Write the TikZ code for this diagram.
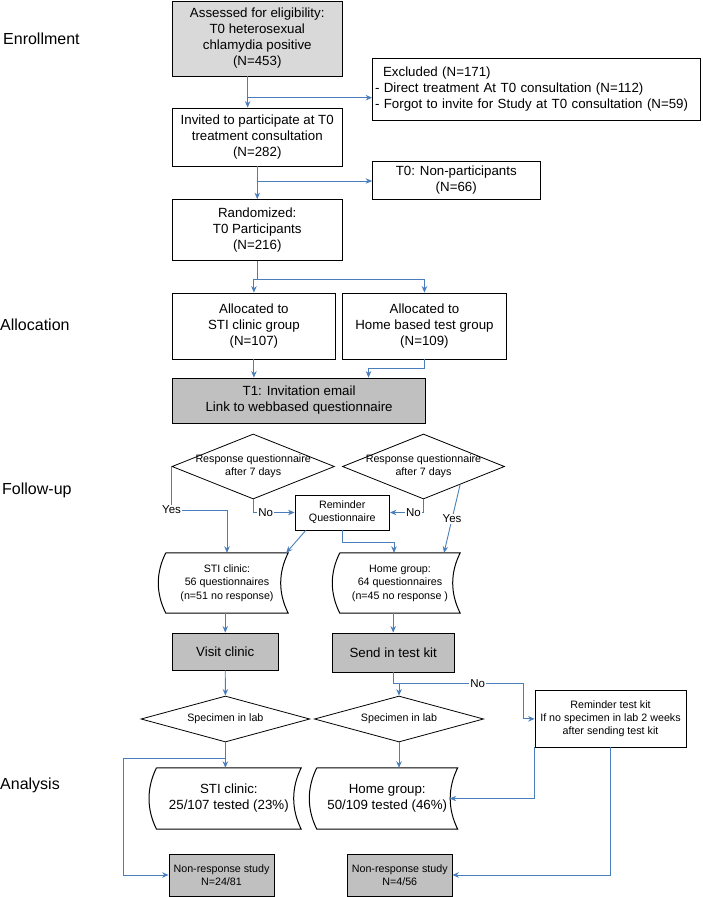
\documentclass[tikz,border=0pt]{standalone}
\usepackage{fontspec}
\setmainfont{Liberation Sans}
\usetikzlibrary{shapes.geometric,calc,arrows.meta}
\definecolor{linkblue}{HTML}{4A7EBB}
\definecolor{lightgrey}{HTML}{D9D9D9}
\definecolor{midgrey}{HTML}{C0C0C0}

\begin{document}
\begin{tikzpicture}[x=1pt,y=-1pt]
        % Define styles
        \tikzset{
            box/.style={rectangle, draw, line width=0.8pt, align=center, inner sep=0pt, font=\fontsize{13.3}{16}\selectfont},
            greybox/.style={box, fill=midgrey},
            smallbox/.style={box, font=\fontsize{10.7}{13}\selectfont},
            decision/.style={diamond, draw, line width=0.8pt, inner sep=0pt},
            tapebox/.style={rectangle, align=center, inner sep=0pt},
            smalltext/.style={align=center, inner sep=0pt, font=\fontsize{10.7}{13}\selectfont},
            phase/.style={anchor=west, inner sep=0pt, font=\fontsize{16}{19}\selectfont},
            answer/.style={fill=white, inner sep=1pt, font=\fontsize{11.5}{13}\selectfont},
            link/.style={draw=linkblue, line width=0.9pt},
            arrow/.style={link, ->, >={Stealth[length=6.5pt,width=5.5pt]}}
        }

        \useasboundingbox (0,0) rectangle (702,897);

        % Phases
        \node[phase] (enrollment_label) at (3,39) {Enrollment};
        \node[phase] (allocation_label) at (0,325) {Allocation};
        \node[phase] (followup_label) at (2,490) {Follow-up};
        \node[phase] (analysis_label) at (0,785) {Analysis};

        % Enrollment
        \node[box, fill=lightgrey, minimum width=170.5pt, minimum height=75pt] (assessed_node) at (257.25,38.5) {Assessed for eligibility:\\T0 heterosexual\\chlamydia positive\\(N=453)};
        \node[box, align=left, text width=323pt, inner xsep=2.5pt, minimum height=62pt] (excluded_node) at (536.5,89) {\hspace*{8.1pt}Excluded (N=171)\\- Direct treatment At T0 consultation (N=112)\\- Forgot to invite for Study at T0 consultation (N=59)};
        \node[box, minimum width=170.5pt, minimum height=58pt] (invited_node) at (257.25,137) {Invited to participate at T0\\treatment consultation\\(N=282)};
        \node[box, minimum width=167.5pt, minimum height=38.5pt] (nonpart_node) at (456.25,180.5) {T0: Non-participants\\(N=66)};
        \node[box, minimum width=170.5pt, minimum height=61pt] (randomized_node) at (257.25,230) {Randomized:\\T0 Participants\\(N=216)};

        % Allocation
        \node[box, minimum width=163.8pt, minimum height=66pt] (alloc_sti_node) at (253.9,326) {Allocated to\\STI clinic group\\(N=107)};
        \node[box, minimum width=163.9pt, minimum height=66pt] (alloc_home_node) at (424.45,326) {Allocated to\\Home based test group\\(N=109)};
        \node[greybox, minimum width=253.2pt, minimum height=45pt] (invitation_node) at (299.1,400.5) {T1: Invitation email\\Link to webbased questionnaire};

        % Follow-up
        \node[decision, minimum width=162.4pt, minimum height=65pt] (response_node_1) at (253.2,466.5) {};
        \node[smalltext] (response_text_1) at (response_node_1) {Response questionnaire\\after 7 days};
        \node[decision, minimum width=162pt, minimum height=65pt] (response_node_2) at (423.5,466.5) {};
        \node[smalltext] (response_text_2) at (response_node_2) {Response questionnaire\\after 7 days};
        \node[smallbox, minimum width=94.5pt, minimum height=35pt] (reminder_q_node) at (342.25,512.5) {Reminder\\Questionnaire};
        \node[tapebox, font=\fontsize{10.7}{13.5}\selectfont, minimum width=122pt, minimum height=60pt] (quest_sti_node) at (227,583) {STI clinic:\\56 questionnaires\\(n=51 no response)};
        \node[tapebox, font=\fontsize{10.7}{13.5}\selectfont, minimum width=120pt, minimum height=60pt] (quest_home_node) at (400,583) {Home group:\\64 questionnaires\\(n=45 no response )};

        % Analysis
        \node[greybox, minimum width=106.5pt, minimum height=37pt] (visit_node) at (225.25,651.5) {Visit clinic};
        \node[greybox, minimum width=122.4pt, minimum height=39pt] (sendkit_node) at (393.2,652.5) {Send in test kit};
        \node[decision, minimum width=168.8pt, minimum height=46pt] (specimen_node_1) at (225.4,719) {};
        \node[smalltext] (specimen_text_1) at (specimen_node_1) {Specimen in lab};
        \node[decision, minimum width=169.2pt, minimum height=46pt] (specimen_node_2) at (399,719) {};
        \node[smalltext] (specimen_text_2) at (specimen_node_2) {Specimen in lab};
        \node[smallbox, minimum width=151pt, minimum height=56.3pt] (reminder_kit_node) at (610.5,718.85) {Reminder test kit\\If no specimen in lab 2 weeks\\after sending test kit};
        \node[tapebox, font=\fontsize{13.3}{16}\selectfont, minimum width=144.3pt, minimum height=61pt] (tested_sti_node) at (228.85,798.5) {STI clinic:\\25/107 tested (23\%)};
        \node[tapebox, font=\fontsize{13.3}{16}\selectfont, minimum width=140.5pt, minimum height=61pt] (tested_home_node) at (387.25,798.5) {Home group:\\50/109 tested (46\%)};
        \node[smallbox, fill=midgrey, minimum width=105pt, minimum height=42pt] (nonresp_node_1) at (221.5,875) {Non-response study\\N=24/81};
        \node[smallbox, fill=midgrey, minimum width=104.5pt, minimum height=42pt] (nonresp_node_2) at (399.75,875) {Non-response study\\N=4/56};

        % Tape outlines
        \foreach \tape in {quest_sti_node, quest_home_node, tested_sti_node, tested_home_node}
            \draw[line width=1pt] (\tape.north west) -- (\tape.north east)
                .. controls +(-10,20) and +(-10,-20) .. (\tape.south east) -- (\tape.south west)
                .. controls +(-10,-20) and +(-10,20) .. (\tape.north west);

        % Arrows
        \coordinate (split_1) at (247.6,97.7);
        \draw[arrow] ([xshift=-9.6pt]assessed_node.south) -- ([xshift=-9.6pt]invited_node.north);
        \draw[arrow] (split_1) -- (split_1 -| excluded_node.west);
        \coordinate (split_2) at (257.25,181);
        \draw[arrow] (invited_node) -- (randomized_node);
        \draw[arrow] (split_2) -- (split_2 -| nonpart_node.west);

        \draw[link] (randomized_node.south) -- ++(0,18.5) coordinate (split_3);
        \draw[arrow] (split_3) -| (alloc_sti_node.north);
        \draw[arrow] (split_3) -| (alloc_home_node.north);
        \draw[arrow] (alloc_sti_node.south) -- (alloc_sti_node.south |- invitation_node.north);
        \draw[arrow] (alloc_home_node.south) -- ++(0,9) -| ([xshift=69.4pt]invitation_node.north);

        \draw[arrow] (response_node_1.west) -- ++(0,43.5) node[answer] (yes_label_1) {Yes} -| (quest_sti_node.north);
        \draw[arrow] (response_node_1.south) |- node[answer, pos=0.65] (no_label_1) {No} (reminder_q_node.west);
        \draw[arrow] (response_node_2.south) |- node[answer, pos=0.65] (no_label_2) {No} (reminder_q_node.east);
        \draw[arrow] ($(response_node_2.east)!0.55!(response_node_2.south)$) -- node[answer] (yes_label_2) {Yes} ([xshift=44pt]quest_home_node.north);
        \draw[arrow] ([xshift=-36.5pt]reminder_q_node.south) -- ([xshift=-2pt]quest_sti_node.north east);
        \draw[arrow] (reminder_q_node.south) -- ++(0,12) -| ([xshift=-6pt]quest_home_node.north);

        \draw[arrow] (quest_sti_node.south -| visit_node.north) -- (visit_node.north);
        \draw[arrow] (quest_home_node.south -| sendkit_node.north) -- (sendkit_node.north);
        \draw[arrow] (visit_node.south) -- (specimen_node_1.north);
        \draw[arrow] (sendkit_node.south) -- ++(0,11) coordinate (split_4) -- ++(130,0) node[answer, pos=0.65] (no_label_3) {No} |- (reminder_kit_node.west);
        \draw[arrow] (split_4 -| specimen_node_2.north) -- (specimen_node_2.north);

        \draw[arrow] (specimen_node_1.south) -- (specimen_node_1.south |- tested_sti_node.north);
        \draw[arrow] ([yshift=-16pt]specimen_node_1.south) -- ++(-102.4,0) |- (nonresp_node_1.west);
        \draw[arrow] (specimen_node_2.south) -- (specimen_node_2.south |- tested_home_node.north);
        \draw[arrow] (reminder_kit_node.south west) |- ([xshift=-8pt]tested_home_node.east);
        \draw[arrow] (reminder_kit_node.south) |- (nonresp_node_2.east);
    \end{tikzpicture}
\end{document}
